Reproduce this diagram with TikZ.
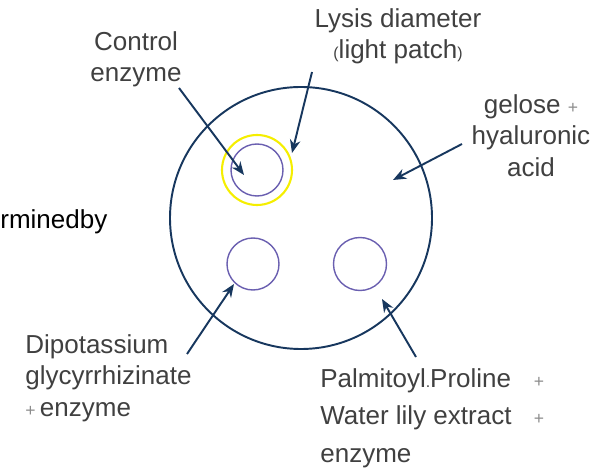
\documentclass[tikz,border=0pt]{standalone}
\usepackage{fontspec}
\setmainfont{Liberation Sans}
\usepackage{xcolor}
\usepackage{tikz}
\usetikzlibrary{positioning}
\usetikzlibrary{calc,arrows.meta}
\definecolor{plateblue}{RGB}{23,55,94}
\definecolor{wellpurple}{RGB}{106,95,176}
\definecolor{haloyellow}{RGB}{245,238,0}
\definecolor{labelgray}{RGB}{64,64,64}
\newcommand{\tinyplus}{{\color{gray!90}\fontsize{10}{10}\selectfont +}}
\newcommand{\tinysym}[1]{{\fontsize{9}{9}\selectfont #1}}
\tikzset{
  plate/.style={draw=plateblue,line width=1.1pt},
  well/.style={draw=wellpurple,line width=0.8pt},
  halo/.style={draw=haloyellow,line width=1.2pt},
  pointer/.style={->,draw=plateblue,line width=1.1pt},
  lbl/.style={inner sep=0pt,text=labelgray,font=\fontsize{14.8}{18.1}\selectfont}
}

\begin{document}
\begin{tikzpicture}[>={Stealth[length=7.5pt,width=6pt]},x=0.02cm,y=0.02cm]
  \useasboundingbox (0,0) rectangle (595,470);
  % agar plate and wells
  \draw[plate] (301,252) circle (131);
  \draw[halo] (257,300) circle (35);
  \draw[well] (257,300) circle (26);
  \draw[well] (253,206) circle (26);
  \draw[well] (360,206) circle (26.5);
  % labels
  \node[lbl,anchor=north,align=center] (ctrl) at (136,439) {Control\\enzyme};
  \node[lbl,anchor=north,align=center] (lysis) at (398,462) {Lysis diameter\\\tinysym{(}light patch\tinysym{)}};
  \node[lbl,anchor=north,align=center] (gel) at (531,376) {gelose \tinyplus\\hyaluronic\\acid};
  \node[lbl,anchor=base west,text=black] (cut) at (0,241) {rminedby};
  \node[lbl,anchor=north west,align=left] (dipot) at (25,136) {Dipotassium\\glycyrrhizinate\\\tinyplus\,enzyme};
  \node[lbl,anchor=north west,align=left,font=\fontsize{14.8}{21.5}\selectfont] (palm) at (320,102)
    {\makebox[121.5pt][l]{Palmitoyl\tinysym{.}Proline}\tinyplus\\\makebox[121.5pt][l]{Water\ lily\ extract}\tinyplus\\enzyme};
  % arrow ends
  \coordinate (ctrlA) at (179,382);  \coordinate (ctrlB) at (244,295);
  \coordinate (lysisA) at (312,398); \coordinate (lysisB) at (292,317);
  \coordinate (gelA) at (462,326);   \coordinate (gelB) at (393,290);
  \coordinate (dipotA) at (187,116); \coordinate (dipotB) at (234,186);
  \coordinate (palmA) at (416,113);  \coordinate (palmB) at (382,171);
  \draw[pointer] (ctrlA) -- (ctrlB);
  \draw[pointer] (lysisA) -- (lysisB);
  \draw[pointer] (gelA) -- (gelB);
  \draw[pointer] (dipotA) -- (dipotB);
  \draw[pointer] (palmA) -- (palmB);
\end{tikzpicture}
\end{document}
